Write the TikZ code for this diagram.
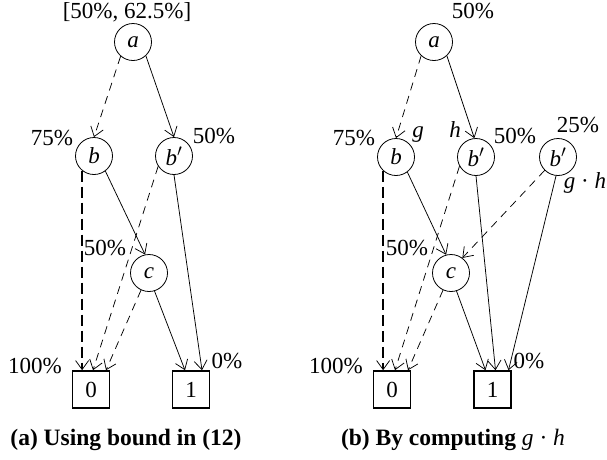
\documentclass[tikz,border=0pt]{standalone}
\usepackage{fontspec}
\setmainfont{Liberation Serif}
\usetikzlibrary{arrows.meta,calc}
\begin{document}
\begin{tikzpicture}[x=1pt,y=-1pt,
  every node/.style={font=\fontsize{23}{27}\selectfont},
  vtx/.style={circle,draw,line width=0.8pt,minimum size=37pt,inner sep=0pt},
  term/.style={rectangle,draw,line width=1.6pt,minimum size=37pt,inner sep=0pt},
  arr/.style={-{Straight Barb[length=9pt,width=13pt,line width=0.75pt]},line width=0.75pt},
  dsh/.style={arr,dash pattern=on 8pt off 6pt},
  tdsh/.style={arr,line width=1.5pt,dash pattern=on 11pt off 5pt},
  lbl/.style={anchor=base,inner sep=0pt},
  captxt/.style={anchor=base,inner sep=0pt,font=\fontsize{23.5}{28}\selectfont\bfseries}]
\useasboundingbox (0,0) rectangle (607,459);
% ---------- left panel ----------
\node[vtx] (aL) at (133,42) {\textit{a}};
\node[vtx] (bL) at (94,156) {\textit{b}};
\node[vtx] (bpL) at (174,156) {\textit{b}$'$};
\node[vtx] (cL) at (149,273) {\textit{c}};
\node[term] (zL) at (91,389.5) {0};
\node[term] (oL) at (191,389.5) {1};
\draw[dsh] (aL.229) -- (bL.north);
\draw[arr] (aL.313) -- (bpL.north);
\draw[tdsh] (bL.231) -- (bL.231 |- zL.north);
\draw[arr] (bL.307) -- (cL.102);
\draw[dsh] (bpL.213) -- ($(zL.north)+(2,0)$);
\draw[dsh] (cL.245) -- ($(zL.north)+(15,0)$);
\draw[arr] (cL.287) -- ($(oL.north)+(-6,0)$);
\draw[arr] (bpL.south) -- ($(oL.north)+(11,0)$);
\node[lbl] (paL) at (127,18) {[50\%, 62.5\%]};
\node[lbl] (pbL) at (52,145) {75\%};
\node[lbl] (pbpL) at (214,143) {50\%};
\node[lbl] (pcL) at (105,255) {50\%};
\node[lbl] (pzL) at (35,373) {100\%};
\node[lbl] (poL) at (227,368) {0\%};
\node[captxt] (capL) at (126,445) {(a) Using bound in (12)};
% ---------- right panel ----------
\node[vtx] (aR) at (434,42) {\textit{a}};
\node[vtx] (bR) at (396,157) {\textit{b}};
\node[vtx] (bpR) at (476,157) {\textit{b}$'$};
\node[vtx] (bqR) at (558,157) {\textit{b}$'$};
\node[vtx] (cR) at (451,273) {\textit{c}};
\node[term] (zR) at (392,389.5) {0};
\node[term] (oR) at (492.5,389.5) {1};
\draw[dsh] (aR.227) -- (bR.north);
\draw[arr] (aR.313) -- (bpR.95);
\draw[tdsh] (bR.227) -- (bR.227 |- zR.north);
\draw[arr] (bR.307) -- (cR.105);
\draw[dsh] (bpR.209) -- ($(zR.north)+(3,0)$);
\draw[dsh] (cR.245) -- ($(zR.north)+(16,0)$);
\draw[arr] (cR.287) -- ($(oR.north)+(-7,0)$);
\draw[arr] (bpR.south) -- ($(oR.north)+(3,0)$);
\draw[dsh] (bqR.225) -- (cR.53);
\draw[arr] (bqR.264) -- ($(oR.north)+(16,0)$);
\node[lbl] (paR) at (473,18) {50\%};
\node[lbl] (pbR) at (354,145) {75\%};
\node[lbl] (gR) at (418,137) {\textit{g}};
\node[lbl] (hR) at (455,137) {\textit{h}};
\node[lbl] (pbpR) at (515,143) {50\%};
\node[lbl] (pbqR) at (578,132) {25\%};
\node[lbl] (ghR) at (585,188) {\textit{g} · \textit{h}};
\node[lbl] (pcR) at (407,255) {50\%};
\node[lbl] (pzR) at (336,373) {100\%};
\node[lbl] (poR) at (529,368) {0\%};
\node[captxt] (capR) at (453,445) {(b) By computing {\normalfont\itshape g} {\normalfont ·} {\normalfont\itshape h}};
\end{tikzpicture}
\end{document}
